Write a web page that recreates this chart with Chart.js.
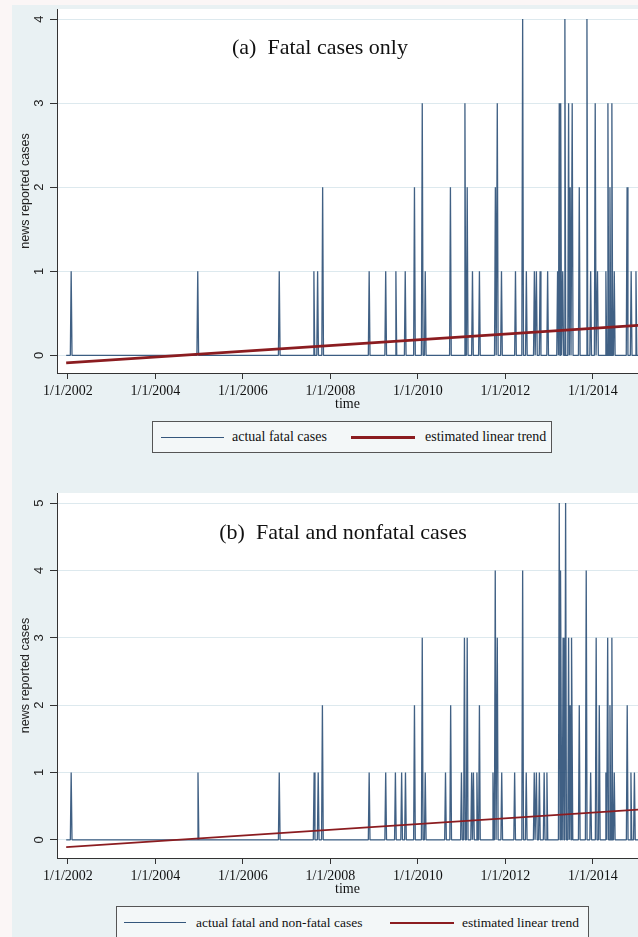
<!DOCTYPE html>
<html>
<head>
<meta charset="utf-8">
<script src="https://cdn.jsdelivr.net/npm/chart.js@4.4.1/dist/chart.umd.min.js"></script>
<style>
  html, body { margin: 0; padding: 0; }
  body { width: 638px; height: 937px; background: #e9f1f3; position: relative; overflow: hidden;
         font-family: "Liberation Serif", "Times New Roman", serif; color: #111; }
  .edge-left { position: absolute; left: 0; top: 0; width: 12px; height: 937px; background: #fbf6f6; }
  .edge-top { position: absolute; left: 0; top: 0; width: 638px; height: 5px; background: #fbf6f6; }
  canvas { position: absolute; left: 0; }
  .legend { position: absolute; border: 1px solid #555; background: #f3f7f8; box-sizing: border-box; }
  .legend span { position: absolute; white-space: nowrap; line-height: 1; }
  .legend i { position: absolute; height: 0; }
</style>
</head>
<body>
<div class="edge-left"></div>
<div class="edge-top"></div>

<canvas id="fatalChart" width="638" height="415" style="top:0"></canvas>
<div class="legend" style="left:152px; top:421px; width:400px; height:32px; font-size:14px">
  <i style="left:8px; top:15px; width:63px; border-top:1px solid #34567c"></i>
  <span style="left:79px; top:8px">actual fatal cases</span>
  <i style="left:198px; top:14px; width:64px; border-top:3px solid #8b1c20"></i>
  <span style="left:272px; top:8px">estimated linear trend</span>
</div>

<canvas id="allChart" width="638" height="416" style="top:484px"></canvas>
<div class="legend" style="left:116px; top:906px; width:473px; height:40px; font-size:13.5px">
  <i style="left:7px; top:15px; width:62px; border-top:1px solid #34567c"></i>
  <span style="left:79px; top:9px">actual fatal and non-fatal cases</span>
  <i style="left:273px; top:15px; width:64px; border-top:2px solid #8b1c20"></i>
  <span style="left:345px; top:9px">estimated linear trend</span>
</div>

<script>
// x axis ticks (years, shown as 1/1/YYYY)
var yearTicks = [2002, 2004, 2006, 2008, 2010, 2012, 2014];

// (a) fatal cases: week of report and count
var fatalDates = [
  '2002-01-28', '2004-12-20', '2006-10-31', '2007-08-16', '2007-09-16', '2007-10-28',
  '2008-11-20', '2009-04-07', '2009-07-01', '2009-09-17', '2009-12-03', '2010-02-06',
  '2010-03-03', '2010-09-29', '2011-01-28', '2011-02-16', '2011-04-01', '2011-05-29',
  '2011-10-09', '2011-10-25', '2011-11-29', '2012-03-25', '2012-05-24', '2012-06-24',
  '2012-08-30', '2012-09-16', '2012-10-17', '2012-12-19', '2013-03-12', '2013-03-26',
  '2013-04-07', '2013-04-24', '2013-05-12', '2013-06-12', '2013-06-25', '2013-07-12',
  '2013-09-09', '2013-11-12', '2013-12-13', '2014-01-20', '2014-02-08', '2014-04-19',
  '2014-05-06', '2014-05-23', '2014-06-08', '2014-06-28', '2014-10-13', '2014-11-16',
  '2014-12-26'
];
var fatalCounts = [
  1, 1, 1, 1, 1, 2,
  1, 1, 1, 1, 2, 3,
  1, 2, 3, 2, 1, 1,
  2, 3, 1, 1, 4, 1,
  1, 1, 1, 1, 1, 3,
  3, 1, 4, 3, 2, 3,
  2, 4, 1, 3, 1, 1,
  3, 2, 3, 1, 2, 1,
  1
];

// (b) fatal and nonfatal cases
var allDates = [
  '2002-01-28', '2004-12-22', '2006-10-31', '2007-08-18', '2007-09-21', '2007-10-26',
  '2008-11-20', '2009-04-07', '2009-06-27', '2009-08-18', '2009-09-19', '2009-12-03',
  '2010-02-06', '2010-03-03', '2010-08-19', '2010-10-01', '2010-12-30', '2011-01-24',
  '2011-02-16', '2011-03-25', '2011-04-09', '2011-05-08', '2011-05-29', '2011-09-19',
  '2011-10-08', '2011-10-25', '2011-12-01', '2012-03-18', '2012-05-24', '2012-06-23',
  '2012-08-29', '2012-09-16', '2012-10-11', '2012-11-20', '2012-12-13', '2013-03-26',
  '2013-04-09', '2013-04-27', '2013-05-18', '2013-06-12', '2013-06-25', '2013-07-10',
  '2013-09-09', '2013-11-06', '2013-12-13', '2014-01-28', '2014-02-23', '2014-04-19',
  '2014-05-04', '2014-05-23', '2014-06-08', '2014-06-28', '2014-10-14', '2014-11-14',
  '2014-12-13'
];
var allCounts = [
  1, 1, 1, 1, 1, 2,
  1, 1, 1, 1, 1, 2,
  3, 1, 1, 2, 1, 3,
  3, 1, 1, 1, 2, 1,
  4, 3, 1, 1, 4, 1,
  1, 1, 1, 1, 1, 5,
  4, 3, 5, 3, 2, 3,
  2, 4, 1, 3, 2, 1,
  3, 2, 3, 1, 2, 1,
  1
];

// estimated linear trends, values at the two ends
var trendYears = [2001.96, 2015.1];
var fatalTrend = [-0.09, 0.36];
var allTrend = [-0.11, 0.45];

var fatalYTicks = [0, 1, 2, 3, 4];
var allYTicks = [0, 1, 2, 3, 4, 5];

function toYear(s) {
    var d = new Date(s + 'T00:00:00Z');
    var y = d.getUTCFullYear();
    var start = Date.UTC(y, 0, 1), end = Date.UTC(y + 1, 0, 1);
    return y + (d.getTime() - start) / (end - start);
}

// weekly series: zero weeks around each reported week
function weeklySeries(dates, counts) {
    var week = 7 / 365.25;
    var pts = [{ x: trendYears[0], y: 0 }, { x: trendYears[1], y: 0 }];
    dates.forEach(function (d, i) {
        var t = toYear(d);
        pts.push({ x: t - week, y: 0 }, { x: t, y: counts[i] }, { x: t + week, y: 0 });
    });
    return pts.sort(function (a, b) { return a.x - b.x; });
}

// white plot region
var plotBg = {
    id: 'plotBg',
    beforeDraw: function (chart) {
        var a = chart.chartArea, c = chart.ctx;
        c.save();
        c.fillStyle = '#ffffff';
        c.fillRect(a.left, a.top, a.right - a.left, a.bottom - a.top);
        c.restore();
    }
};

// rotated y tick labels and the panel title
var extraText = {
    id: 'extraText',
    afterDraw: function (chart, args, opts) {
        var s = chart.scales.y, c = chart.ctx;
        c.save();
        c.fillStyle = '#222';
        c.font = '13px "Liberation Sans", Arial, sans-serif';
        c.textAlign = 'center';
        c.textBaseline = 'middle';
        s.ticks.forEach(function (t) {
            c.save();
            c.translate(39, s.getPixelForValue(t.value));
            c.rotate(-Math.PI / 2);
            c.fillText(String(t.value), 0, 0);
            c.restore();
        });
        c.fillStyle = '#111';
        c.font = '22px "Liberation Serif", "Times New Roman", serif';
        c.fillText(opts.text, opts.x, opts.y);
        c.restore();
    }
};

function makeChart(id, series, seriesLabel, trend, yTicks, yMin, yMax, trendWidth, title) {
    var ctx = document.getElementById(id).getContext('2d');
    return new Chart(ctx, {
        type: 'line',
        data: {
            datasets: [
                {
                    label: 'estimated linear trend',
                    data: trendYears.map(function (x, i) { return { x: x, y: trend[i] }; }),
                    borderColor: '#8b1c20',
                    borderWidth: trendWidth,
                    pointRadius: 0,
                    order: 1
                },
                {
                    label: seriesLabel,
                    data: series,
                    borderColor: 'rgba(30, 68, 110, 0.85)',
                    borderWidth: 1.3,
                    borderJoinStyle: 'bevel',
                    pointRadius: 0,
                    tension: 0,
                    order: 2
                }
            ]
        },
        options: {
            responsive: false,
            animation: false,
            layout: { padding: { top: 9, left: 0, right: 0, bottom: 0 } },
            plugins: {
                legend: { display: false },
                tooltip: { enabled: false },
                extraText: title
            },
            scales: {
                x: {
                    type: 'linear',
                    min: 2001.75,
                    max: 2015.03,
                    afterBuildTicks: function (s) { s.ticks = yearTicks.map(function (v) { return { value: v }; }); },
                    afterFit: function (s) { s.height = 42; },
                    grid: { drawOnChartArea: false, color: '#333', tickLength: 6 },
                    border: { color: '#333', width: 1 },
                    ticks: {
                        callback: function (v) { return '1/1/' + v; },
                        color: '#111',
                        maxRotation: 0,
                        padding: 4,
                        font: { family: '"Liberation Serif", "Times New Roman", serif', size: 14 }
                    },
                    title: {
                        display: true,
                        text: 'time',
                        color: '#111',
                        padding: { top: 0, bottom: 2 },
                        font: { family: '"Liberation Serif", "Times New Roman", serif', size: 14 }
                    }
                },
                y: {
                    min: yMin,
                    max: yMax,
                    afterBuildTicks: function (s) { s.ticks = yTicks.map(function (v) { return { value: v }; }); },
                    afterFit: function (s) { s.width = 57; },
                    grid: { color: '#dde9ee', tickColor: '#333', tickLength: 7 },
                    border: { color: '#333', width: 1 },
                    ticks: { display: false },
                    title: {
                        display: true,
                        text: 'news reported cases',
                        color: '#222',
                        padding: { top: 18, bottom: 0 },
                        font: { family: '"Liberation Sans", Arial, sans-serif', size: 12.5 }
                    }
                }
            }
        },
        plugins: [plotBg, extraText]
    });
}

makeChart('fatalChart', weeklySeries(fatalDates, fatalCounts), 'actual fatal cases',
    fatalTrend, fatalYTicks, -0.21, 4.12, 2.8, { text: '(a)  Fatal cases only', x: 320, y: 48 });
makeChart('allChart', weeklySeries(allDates, allCounts), 'actual fatal and non-fatal cases',
    allTrend, allYTicks, -0.27, 5.15, 1.8, { text: '(b)  Fatal and nonfatal cases', x: 343, y: 49 });
</script>
</body>
</html>
